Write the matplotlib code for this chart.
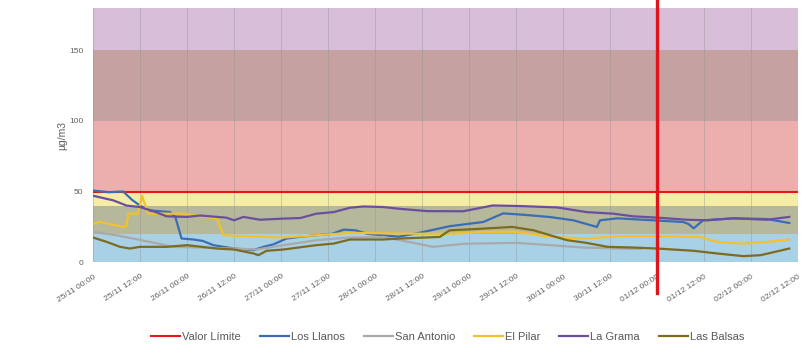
import numpy as np
import pandas as pd
import matplotlib
matplotlib.use("Agg")
import matplotlib.pyplot as plt
import matplotlib.dates as mdates

plt.rcParams["font.family"] = ["Liberation Sans", "DejaVu Sans"]

start = pd.Timestamp("2023-11-25 00:00")

# hours since 25/11 00:00 and readings (ug/m3) per station
llanos_h = [0, 4, 7.7, 10, 12, 14.5, 19.7, 21, 22.6, 25.6, 28, 30.7, 36, 41, 43.5, 46, 49.4, 53, 57,
            61, 64, 67, 70, 74, 78, 82.7, 91, 99.6, 104.7, 110, 116.7, 122.6, 128.6, 129.4, 133.8,
            143, 150.6, 152, 153.3, 155.7, 163.4, 172, 177.7]
llanos_v = [50.7, 49.5, 50, 44, 40, 36.6, 35.4, 32, 16.7, 16, 15, 12, 9.6, 8.5, 10.8, 12.5, 16.7, 18, 19,
            20, 23, 22.5, 20, 19, 18, 20.4, 25.4, 28.4, 34.5, 33.5, 31.9, 29.6, 24.9, 29.6, 31,
            29.6, 28.4, 27, 23.9, 29.6, 31, 30.5, 27.7]

sanantonio_h = [0, 6, 14.5, 20.5, 27.3, 36, 41.8, 48.6, 57, 65.6, 74, 78.4, 86.8, 95, 108, 116.7, 125,
                133.8, 140]
sanantonio_v = [21.4, 19, 14.3, 10.8, 10.3, 9.6, 8.9, 12, 15.5, 17.4, 17.8, 15.5, 10.8, 13, 13.6, 12,
                10.3, 9.6, 9.4]

pilar_h = [0, 1.8, 7.7, 8.5, 9, 11.5, 12.5, 14, 23, 31.6, 32.4, 33.3, 40, 48.6, 57, 65.6, 78, 91, 99.6,
           108, 116.7, 126, 133.8, 144, 155, 159.3, 166, 172, 177.7]
pilar_v = [27, 28.4, 25, 25, 34.3, 34.3, 47, 34.3, 34.3, 30.8, 25, 19, 18.3, 17.4, 19, 20.7, 20.2, 20,
           21.4, 21.4, 17.8, 16.7, 18.3, 18.3, 17.8, 14.3, 13.1, 14.3, 16]

grama_h = [0, 5.2, 8.6, 12, 16, 18.8, 24, 27.3, 34, 36, 38.4, 42.6, 48.6, 52.9, 57, 61.4, 65.6, 69, 74,
           78.4, 85.3, 94.5, 102, 109, 118.5, 126, 132.8, 137.9, 144, 151.6, 156.8, 163.4, 172, 177.7]
grama_v = [47, 43.7, 40, 39, 35.4, 32.4, 32, 33, 31.5, 29.6, 32, 30, 30.8, 31.2, 34.3, 35.4, 38.5, 39.4,
           39, 37.7, 36.1, 36, 40.1, 39.7, 38.7, 35.4, 34.3, 32.4, 31.5, 30, 29.6, 31, 30, 32]

balsas_h = [0, 3.5, 6.9, 9.4, 12, 18.8, 24, 31.6, 36, 41, 42.2, 44.3, 48.6, 57, 61.4, 65.6, 74, 78.4,
            88.5, 91, 99.6, 107, 112.5, 116.7, 121, 126, 131.3, 138, 144, 153.3, 159.3, 166, 170.4, 177.7]
balsas_v = [17.4, 14.3, 10.8, 9.6, 10.8, 10.8, 12, 9.6, 8.9, 6.1, 4.9, 8, 8.9, 12, 13.1, 16, 16, 16.7,
            17.8, 22.5, 23.7, 24.9, 22.5, 19, 15.5, 13.6, 10.8, 10.3, 9.6, 8, 6.1, 4.2, 4.9, 9.6]

limit_value = 50
band_edges = [0, 20, 40, 50, 100, 150, 180]
band_colors = ["#a9d1e6", "#b6b89c", "#f6eca6", "#ecafae", "#c5a1a2", "#d9bed9"]

series = [
    ("Los Llanos", llanos_h, llanos_v, "#3a6db5"),
    ("San Antonio", sanantonio_h, sanantonio_v, "#a9a9a9"),
    ("El Pilar", pilar_h, pilar_v, "#f2c12e"),
    ("La Grama", grama_h, grama_v, "#6b4f9e"),
    ("Las Balsas", balsas_h, balsas_v, "#7d6b1f"),
]


def to_time(hours):
    return start + pd.to_timedelta(np.array(hours, dtype=float), unit="h")


fig = plt.figure(figsize=(8.06, 3.63), dpi=100)
ax = fig.add_axes([0.1154, 0.278, 0.875, 0.700])

t0 = start
t1 = start + pd.Timedelta(hours=180)

for lo, hi, c in zip(band_edges[:-1], band_edges[1:], band_colors):
    ax.axhspan(lo, hi, color=c, lw=0, zorder=0)

ticks = pd.date_range(t0, t1, freq="12h")
for t in ticks:
    ax.axvline(t, color="#8f8f8f", lw=0.6, alpha=0.45, zorder=1)

ax.axhline(limit_value, color="#e8151b", lw=1.5, zorder=3, label="Valor Límite")

for name, h, v, c in series:
    ax.plot(to_time(h), v, color=c, lw=1.6, zorder=4, label=name)

# current-time marker, runs past the plot area
ax.axvline(start + pd.Timedelta(hours=144), ymin=-0.122, ymax=1.04, color="#e0141a",
           lw=2.4, clip_on=False, zorder=6)

ax.set_xlim(t0, t1)
ax.set_ylim(0, 180)
ax.set_xticks(ticks)
ax.xaxis.set_major_formatter(mdates.DateFormatter("%d/%m %H:%M"))
ax.set_yticks([0, 50, 100, 150])
ax.tick_params(axis="x", length=0, labelsize=6, colors="#606060", pad=8)
ax.tick_params(axis="y", length=0, labelsize=6, colors="#606060", pad=7)
plt.setp(ax.get_xticklabels(), rotation=33, ha="right", rotation_mode="anchor", fontsize=6)
ax.set_ylabel("µg/m3", fontsize=7.5, color="#606060", labelpad=1)
for s in ax.spines.values():
    s.set_visible(False)

ax.legend(loc="center", bbox_to_anchor=(0.503, -0.295), ncol=6, frameon=False, fontsize=8,
          handlelength=2.6, columnspacing=1.7, handletextpad=0.2, labelcolor="#595959")

fig.savefig("out.png", dpi=100)
